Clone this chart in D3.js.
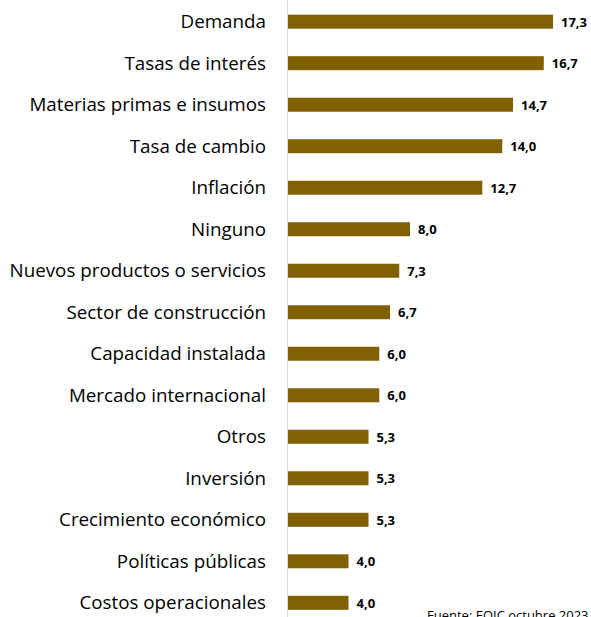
<!DOCTYPE html>
<html><head><meta charset="utf-8">
<script src="https://cdn.jsdelivr.net/npm/d3@7"></script>
<style>body{margin:0;background:#fff}svg{display:block}</style>
</head><body>
<script>
const categories = ["Demanda","Tasas de interés","Materias primas e insumos","Tasa de cambio","Inflación","Ninguno","Nuevos productos o servicios","Sector de construcción","Capacidad instalada","Mercado internacional","Otros","Inversión","Crecimiento económico","Políticas públicas","Costos operacionales"];
const values = [17.3,16.7,14.7,14.0,12.7,8.0,7.3,6.7,6.0,6.0,5.3,5.3,5.3,4.0,4.0];
const source = "Fuente: EOIC octubre 2023";

const W=591,H=617;
const svg=d3.select("body").append("svg").attr("width",W).attr("height",H);
const x0=287;
const x=d3.scaleLinear().domain([0,17.3]).range([x0,553]);
const y=d3.scaleBand().domain(categories).range([1,582+41.5]).paddingInner(0.663).paddingOuter(0.33);
const font="'Open Sans', sans-serif";

svg.selectAll("rect.bar").data(categories).join("rect")
 .attr("x",x0).attr("y",d=>y(d)).attr("height",y.bandwidth())
 .attr("width",(d,i)=>x(values[i])-x0).attr("fill","#806000");

svg.append("line").attr("x1",x0+0.5).attr("x2",x0+0.5).attr("y1",0).attr("y2",H).attr("stroke","#d9d9d9").attr("stroke-width",1);

svg.selectAll("text.cat").data(categories).join("text")
 .attr("x",266).attr("y",d=>y(d)+y.bandwidth()/2).attr("dy","0.35em")
 .attr("text-anchor","end").attr("font-family",font).attr("font-size",18.8).attr("fill","#000").text(d=>d);

svg.selectAll("text.val").data(categories).join("text")
 .attr("x",(d,i)=>x(values[i])+8).attr("y",d=>y(d)+y.bandwidth()/2).attr("dy","0.38em")
 .attr("font-family",font).attr("font-size",13).attr("font-weight","bold").attr("fill","#000")
 .text((d,i)=>values[i].toFixed(1).replace(".",","));

svg.append("text").attr("x",427).attr("y",620).attr("font-family",font).attr("font-size",13).attr("fill","#000").text(source);
</script>
</body></html>
